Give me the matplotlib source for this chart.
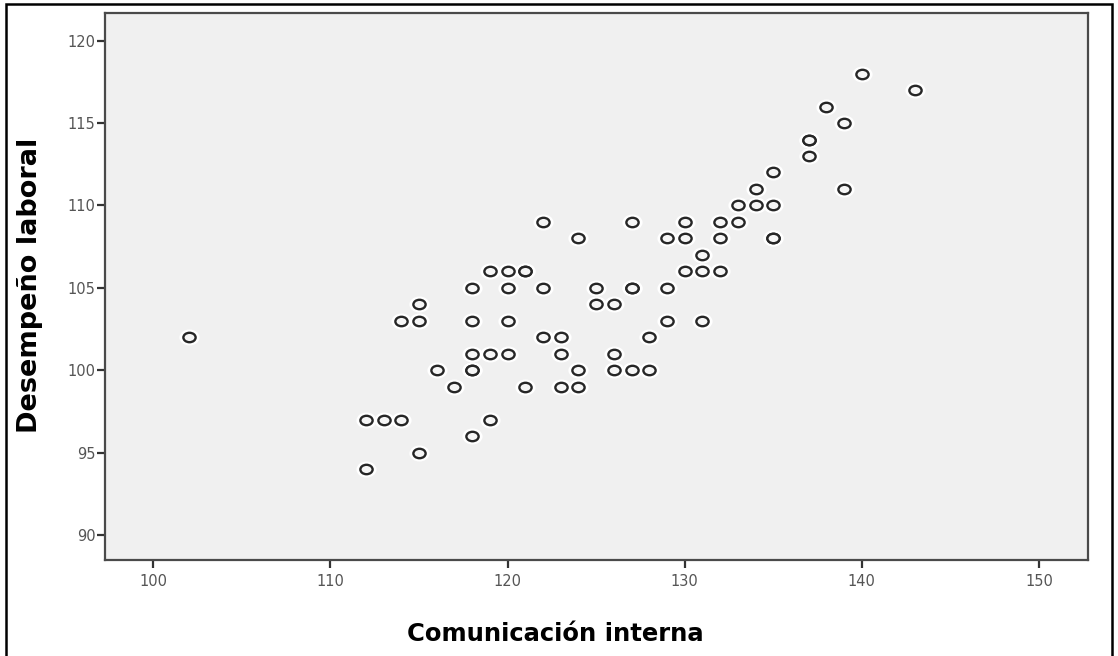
import matplotlib
matplotlib.use("Agg")
import matplotlib.pyplot as plt
from matplotlib.markers import MarkerStyle
from matplotlib.transforms import Affine2D
from matplotlib.patches import Rectangle

# Data
comunicacion_interna = [
    102,
    112, 113, 114, 119,
    112,
    115,
    118,
    117, 121, 123, 124,
    116, 118, 118, 124, 126, 127, 128,
    118, 119, 120, 123, 126,
    122, 123, 128,
    114, 115, 118, 120, 129, 131,
    115, 125, 126,
    118, 120, 122, 125, 127, 127, 129,
    119, 120, 121, 121, 130, 131, 132,
    131,
    124, 129, 130, 132, 135, 135,
    122, 127, 130, 132, 133,
    133, 134, 135,
    134, 139,
    135,
    137,
    137, 137,
    139,
    138,
    143,
    140,
]
desempeno_laboral = [
    102,
    97, 97, 97, 97,
    94,
    95,
    96,
    99, 99, 99, 99,
    100, 100, 100, 100, 100, 100, 100,
    101, 101, 101, 101, 101,
    102, 102, 102,
    103, 103, 103, 103, 103, 103,
    104, 104, 104,
    105, 105, 105, 105, 105, 105, 105,
    106, 106, 106, 106, 106, 106, 106,
    107,
    108, 108, 108, 108, 108, 108,
    109, 109, 109, 109, 109,
    110, 110, 110,
    111, 111,
    112,
    113,
    114, 114,
    115,
    116,
    117,
    118,
]
x_ticks = [100, 110, 120, 130, 140, 150]
y_ticks = [90, 95, 100, 105, 110, 115, 120]
x_label = "Comunicación interna"
y_label = "Desempeño laboral"

W, H = 1118, 656
fig = plt.figure(figsize=(W / 100, H / 100), dpi=100)
fig.patch.set_facecolor("white")

ax = fig.add_axes([105 / W, 1 - 560 / H, (1088 - 105) / W, (560 - 13) / H])
ax.set_facecolor("#f0f0f0")
ax.set_xlim(97.27, 152.77)
ax.set_ylim(88.48, 121.68)

marker = MarkerStyle("o", transform=Affine2D().scale(1.3, 1.0))
# white halo
ax.scatter(comunicacion_interna, desempeno_laboral, marker=marker, s=100,
           facecolor="white", edgecolor="white", linewidths=1.5, zorder=2)
ax.scatter(comunicacion_interna, desempeno_laboral, marker=marker, s=46,
           facecolor="#f6f6f6", edgecolor="#262626", linewidths=1.7, zorder=3)

for side in ["left", "right", "top", "bottom"]:
    ax.spines[side].set_color("#4a4a4a")
    ax.spines[side].set_linewidth(1.6)

ax.set_xticks(x_ticks)
ax.set_yticks(y_ticks)
ax.set_xticklabels([str(t) for t in x_ticks])
ax.set_yticklabels([str(t) for t in y_ticks])
ax.tick_params(axis="both", direction="out", length=6, width=1.6,
               color="#333333", labelcolor="#555555", labelsize=10.5)
ax.tick_params(axis="x", pad=4)
ax.tick_params(axis="y", pad=1)

fig.text(555 / W, 1 - 634 / H, x_label, ha="center", va="center",
         fontsize=17.5, fontweight="bold",
         family=["DejaVu Sans"], color="black")
fig.text(30 / W, 1 - 285 / H, y_label, ha="center", va="center",
         rotation=90, fontsize=19.5, fontweight="heavy",
         family=["DejaVu Sans"], color="black")

# outer frame
fig.patches.append(Rectangle((6 / W, -0.02), (1112 - 6) / W, 1.02 - 4 / H,
                             transform=fig.transFigure, fill=False,
                             edgecolor="black", linewidth=1.8))

fig.savefig("out.png", dpi=100)
